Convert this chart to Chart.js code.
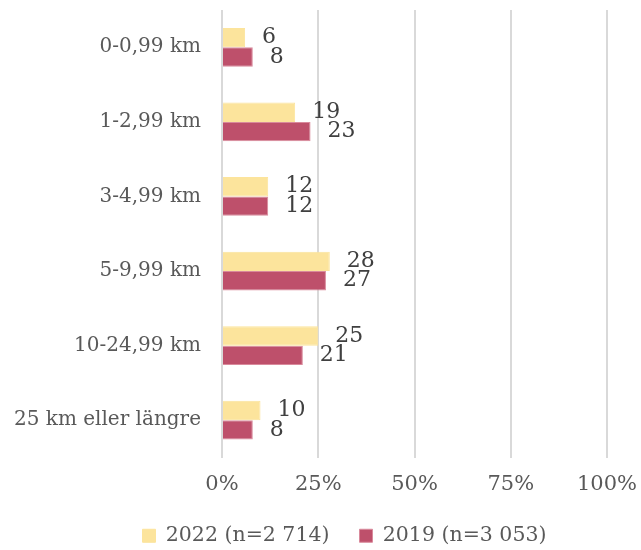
<!DOCTYPE html>
<html>
<head>
<meta charset="utf-8">
<script src="https://cdn.jsdelivr.net/npm/chart.js@4.4.1/dist/chart.umd.min.js"></script>
<style>
  html, body { margin: 0; padding: 0; background: #fff; }
  #wrap { width: 641px; height: 550px; position: relative; }
</style>
</head>
<body>
<div id="wrap"><canvas id="myChart"></canvas></div>
<script>
// Data
const categories = ['0-0,99 km', '1-2,99 km', '3-4,99 km', '5-9,99 km', '10-24,99 km', '25 km eller längre'];
const values2022 = [6, 19, 12, 28, 25, 10];
const values2019 = [8, 23, 12, 27, 21, 8];
const seriesLabels = ['2022 (n=2 714)', '2019 (n=3 053)'];
const xTicks = [0, 25, 50, 75, 100];

const fontFamily = '"DejaVu Serif", Georgia, serif';

// Etiquetas de valor a la derecha de cada barra
const valueLabels = {
    id: 'valueLabels',
    afterDatasetsDraw(chart) {
        const ctx = chart.ctx;
        ctx.save();
        ctx.font = '22px ' + fontFamily;
        ctx.fillStyle = '#404040';
        ctx.textAlign = 'left';
        ctx.textBaseline = 'middle';
        chart.data.datasets.forEach(function (ds, i) {
            const meta = chart.getDatasetMeta(i);
            meta.data.forEach(function (bar, j) {
                ctx.fillText(String(ds.data[j]), bar.x + 17, bar.y);
            });
        });
        ctx.restore();
    }
};

const data = {
    labels: categories,
    datasets: [
        {
            label: seriesLabels[0],
            data: values2022,
            backgroundColor: '#fce49c',
            borderColor: '#fce49c',
            borderWidth: 1,
        },
        {
            label: seriesLabels[1],
            data: values2019,
            backgroundColor: '#be506b',
            borderColor: '#d98a9c',
            borderWidth: 1,
        },
    ],
};

const config = {
    type: 'bar',
    data: data,
    options: {
        indexAxis: 'y',
        animation: false,
        responsive: true,
        maintainAspectRatio: false,
        layout: {
            padding: { top: 10, right: -48, left: 0, bottom: -6 },
        },
        datasets: {
            bar: {
                categoryPercentage: 0.52,
                barPercentage: 1,
            },
        },
        scales: {
            x: {
                min: 0,
                max: 100,
                afterBuildTicks: function (scale) {
                    scale.ticks = xTicks.map(v => ({ value: v }));
                },
                afterFit: function (scale) {
                    scale.height = 38;
                    scale.paddingLeft = 0;
                    scale.paddingRight = 34;
                },
                grid: {
                    color: '#d9d9d9',
                    lineWidth: 2,
                    drawTicks: false,
                },
                border: { display: false },
                ticks: {
                    padding: 14,
                    color: '#595959',
                    font: { family: fontFamily, size: 21 },
                    callback: v => v + '%',
                },
            },
            y: {
                afterFit: function (scale) {
                    scale.width = 222;
                    scale.paddingTop = 0;
                    scale.paddingBottom = 0;
                },
                grid: { display: false, drawTicks: false },
                border: { display: false },
                ticks: {
                    padding: 21,
                    color: '#595959',
                    font: { family: fontFamily, size: 20 },
                },
            },
        },
        plugins: {
            legend: {
                position: 'bottom',
                labels: {
                    boxWidth: 13,
                    boxHeight: 13,
                    padding: 30,
                    color: '#595959',
                    font: { family: fontFamily, size: 20.5 },
                },
            },
            tooltip: { enabled: false },
        },
    },
    plugins: [valueLabels],
};

const myChart = new Chart(document.getElementById('myChart'), config);
</script>
</body>
</html>
